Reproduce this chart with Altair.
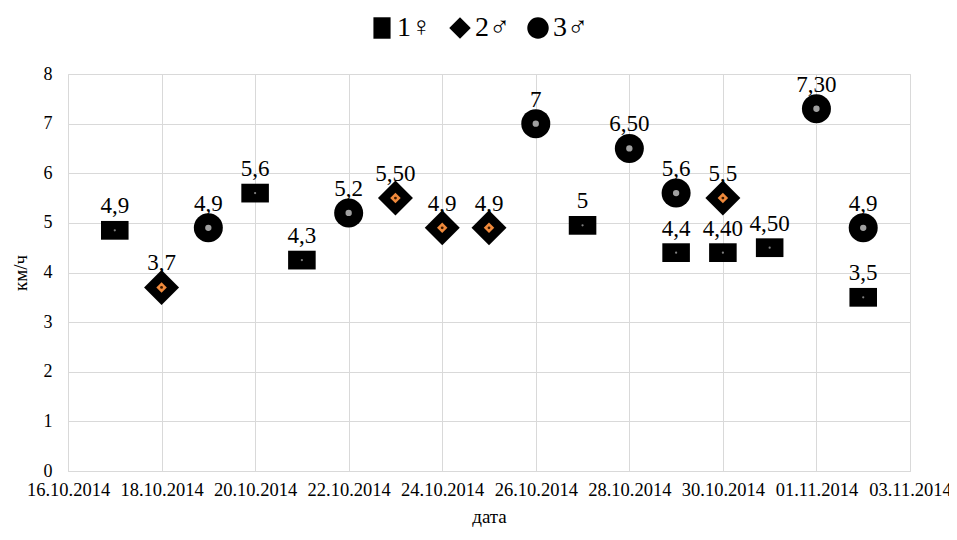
import altair as alt
import pandas as pd

# Series 1 (squares, 1♀)
dates1 = ["2014-10-17", "2014-10-20", "2014-10-21", "2014-10-27", "2014-10-29", "2014-10-30", "2014-10-31", "2014-11-02"]
vals1 = [4.85, 5.6, 4.25, 4.95, 4.4, 4.4, 4.5, 3.5]
labels1 = ["4,9", "5,6", "4,3", "5", "4,4", "4,40", "4,50", "3,5"]

# Series 2 (diamonds, 2♂)
dates2 = ["2014-10-18", "2014-10-23", "2014-10-24", "2014-10-25", "2014-10-30"]
vals2 = [3.7, 5.5, 4.9, 4.9, 5.5]
labels2 = ["3,7", "5,50", "4,9", "4,9", "5,5"]

# Series 3 (circles, 3♂)
dates3 = ["2014-10-19", "2014-10-22", "2014-10-26", "2014-10-28", "2014-10-29", "2014-11-01", "2014-11-02"]
vals3 = [4.9, 5.2, 7.0, 6.5, 5.6, 7.3, 4.9]
labels3 = ["4,9", "5,2", "7", "6,50", "5,6", "7,30", "4,9"]

series_names = ["1♀", "2♂", "3♂"]
tick_dates = [(2014, 10, 16), (2014, 10, 18), (2014, 10, 20), (2014, 10, 22), (2014, 10, 24),
              (2014, 10, 26), (2014, 10, 28), (2014, 10, 30), (2014, 11, 1), (2014, 11, 3)]
y_ticks = [0, 1, 2, 3, 4, 5, 6, 7, 8]

rows = []
for name, ds, vs, ls in zip(series_names, [dates1, dates2, dates3], [vals1, vals2, vals3], [labels1, labels2, labels3]):
    for d, v, l in zip(ds, vs, ls):
        rows.append({"date": d, "value": v, "label": l, "series": name})
df = pd.DataFrame(rows)

FONT = "Liberation Serif"
RECT = "M-1,-0.68H1V0.68H-1Z"
LEG_RECT = "M-0.8,-1H0.8V1H-0.8Z"

x_enc = alt.X(
    "date:T",
    scale=alt.Scale(type="utc",
                    domain=[alt.DateTime(year=2014, month=10, date=16, utc=True),
                            alt.DateTime(year=2014, month=11, date=3, utc=True)]),
    axis=alt.Axis(values=[alt.DateTime(year=y, month=m, date=d, utc=True) for y, m, d in tick_dates],
                  format="%d.%m.%Y", title="дата", labelFontSize=18.5, titleFontSize=19,
                  labelPadding=9, titlePadding=9, tickSize=0, domainColor="#d9d9d9",
                  gridColor="#d9d9d9", labelColor="black", titleColor="black",
                  labelOverlap=False, labelFlush=False,
                  labelFont=FONT, titleFont=FONT, titleFontWeight="normal"),
)
y_enc = alt.Y(
    "value:Q",
    scale=alt.Scale(domain=[0, 8]),
    axis=alt.Axis(values=y_ticks, title="км/ч", labelFontSize=18, titleFontSize=19,
                  labelPadding=16, titlePadding=13, tickSize=0, domain=False,
                  gridColor="#d9d9d9", labelColor="black", titleColor="black",
                  labelFont=FONT, titleFont=FONT, titleFontWeight="normal"),
)

base = alt.Chart(df).encode(x=x_enc, y=y_enc)

shape_enc = alt.Shape(
    "series:N",
    scale=alt.Scale(domain=series_names, range=[LEG_RECT, "diamond", "circle"]),
    legend=alt.Legend(title=None, orient="none", legendX=300, legendY=-60,
                      direction="horizontal", labelFont=FONT, labelFontSize=28,
                      symbolSize=460, symbolFillColor="black", symbolStrokeWidth=0,
                      symbolStrokeColor="black", labelColor="black",
                      columnPadding=14, labelOffset=1),
)

def filt(name):
    return base.transform_filter(alt.datum.series == name)

# legend carrier: invisible points that only feed the shape legend
legend_layer = base.mark_point(filled=True, opacity=0, color="black", size=1).encode(shape=shape_enc)

squares = filt("1♀").mark_point(filled=True, opacity=1, color="black", strokeWidth=0,
                                 shape=RECT, size=760)
diamonds = filt("2♂").mark_point(filled=True, opacity=1, color="black", strokeWidth=0,
                                  shape="diamond", size=1225)
circles = filt("3♂").mark_point(filled=True, opacity=1, color="black", strokeWidth=0,
                                 shape="circle", size=841)

inner_diamond = filt("2♂").mark_point(filled=True, opacity=1, shape="diamond", size=110,
                                       color="#f08a3c", strokeWidth=0)
inner_diamond_dot = filt("2♂").mark_point(filled=True, opacity=1, shape="circle", size=8,
                                           color="#3a1a00", strokeWidth=0)
inner_circle = filt("3♂").mark_point(filled=True, opacity=1, shape="circle", size=40,
                                      color="#a0a0a0", strokeWidth=0)
inner_square = filt("1♀").mark_point(filled=True, opacity=1, shape="circle", size=5,
                                      color="#808080", strokeWidth=0)

labels = base.mark_text(dy=-17, baseline="alphabetic", align="center", font=FONT,
                        fontSize=23, color="black").encode(text="label:N")

chart = alt.layer(legend_layer, squares, diamonds, circles, inner_diamond, inner_diamond_dot,
                  inner_circle, inner_square, labels).properties(
    width=842, height=397,
    autosize=alt.AutoSizeParams(type="none"),
    padding={"left": 60, "top": 66, "right": 39, "bottom": 61},
).configure_view(stroke=None).configure(background="white")

chart.save("out.html", embed_options={"renderer": "svg", "actions": False})
